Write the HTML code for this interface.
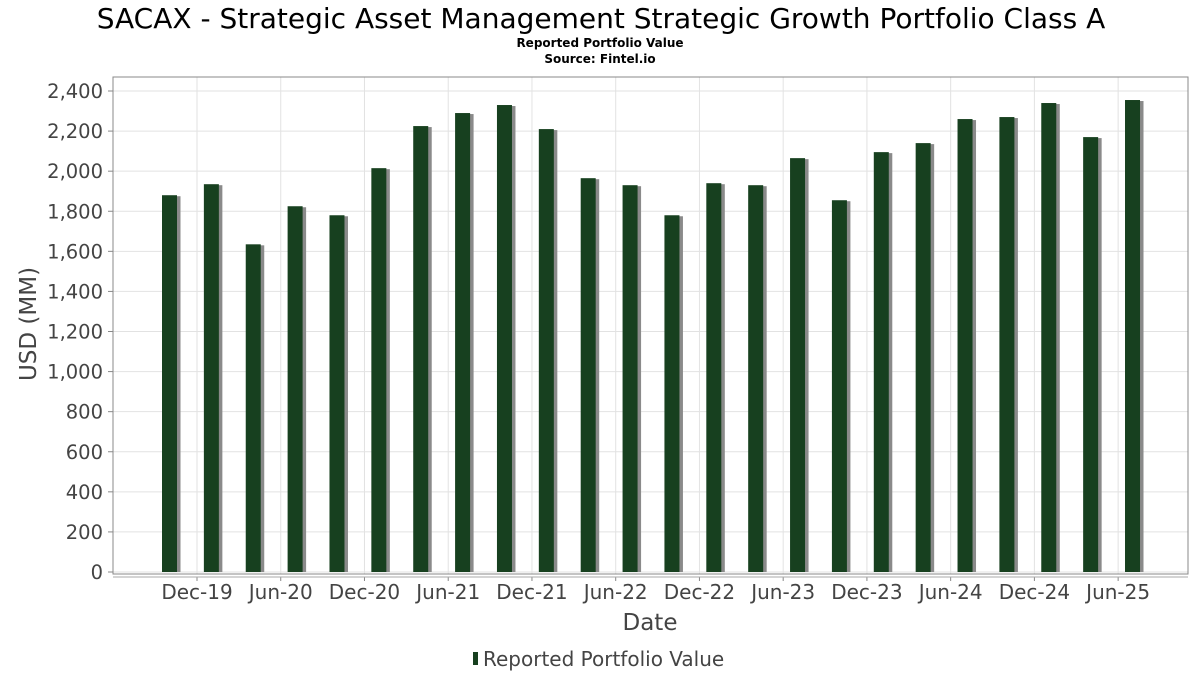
<!DOCTYPE html>
<html><head><meta charset="utf-8"><style>
body{margin:0;background:#fff;font-family:"DejaVu Sans","Liberation Sans",sans-serif}
</style></head><body>
<svg width="1200" height="675" xmlns="http://www.w3.org/2000/svg" font-family="DejaVu Sans, Liberation Sans, sans-serif">
<text x="601" y="28" text-anchor="middle" font-size="28" fill="#000">SACAX - Strategic Asset Management Strategic Growth Portfolio Class A</text>
<text x="600" y="47" text-anchor="middle" font-size="12" font-weight="bold">Reported Portfolio Value</text>
<text x="600" y="63" text-anchor="middle" font-size="12" font-weight="bold">Source: Fintel.io</text>
<g id="grid"></g><g id="bars"></g><g id="axes"></g>
<text transform="translate(36,324) rotate(-90)" text-anchor="middle" font-size="23" fill="#444">USD (MM)</text>
<text x="650" y="630" text-anchor="middle" font-size="23" fill="#444">Date</text>
<g><rect x="473" y="652" width="5" height="13" fill="#17401f"/><text x="483" y="666" font-size="20" fill="#444">Reported Portfolio Value</text></g>
</svg>
<script>
const values=[1880,1935,1635,1825,1780,2015,2225,2290,2330,2210,1965,1930,1780,1940,1930,2065,1855,2095,2140,2260,2270,2340,2170,2355];
const xLabels=["Dec-19","Jun-20","Dec-20","Jun-21","Dec-21","Jun-22","Dec-22","Jun-23","Dec-23","Jun-24","Dec-24","Jun-25"];
const yTicks=[0,200,400,600,800,1000,1200,1400,1600,1800,2000,2200,2400];
const NS="http://www.w3.org/2000/svg";
const L=113,R=1188,T=77,B=574;
const y=v=>572-v*(572-91)/2400;
const x=i=>169.5+i*41.87;
const lx=k=>197+k*83.74;
function mk(t,a,p){const e=document.createElementNS(NS,t);for(const k in a)e.setAttribute(k,a[k]);p.appendChild(e);return e;}
const g=document.getElementById('grid'),b=document.getElementById('bars'),ax=document.getElementById('axes');
yTicks.forEach(v=>{
 const l=mk('line',{x1:L,x2:R,y1:y(v),y2:y(v),stroke:'#e2e2e2'},g);
 
 
 const t=mk('text',{x:103,y:y(v)+7,'text-anchor':'end','font-size':19.5,fill:'#444'},ax);
 t.textContent=v.toLocaleString('en-US');
 
 
 mk('line',{x1:108,x2:113,y1:y(v),y2:y(v),stroke:'#888'},ax);
});
xLabels.forEach((s,k)=>{
 const l=mk('line',{x1:lx(k),x2:lx(k),y1:T,y2:B,stroke:'#e2e2e2'},g);
 
 
 mk('line',{x1:lx(k),x2:lx(k),y1:577,y2:581,stroke:'#888'},ax);
 const t=mk('text',{x:lx(k),y:599,'text-anchor':'middle','font-size':20,fill:'#444'},ax);
 t.textContent=s;
 
 
});
values.forEach((v,i)=>{
 const s=mk('rect',{x:x(i)-5,y:y(v)+1,width:16,height:572-y(v)-1,fill:'#8a8a8a'},b);
 
 
 const r=mk('rect',{x:x(i)-7.5,y:y(v),width:15,height:572-y(v),fill:'#17401f'},b);
 
 
});
mk('rect',{x:L,y:T,width:R-L,height:B-T,fill:'none',stroke:'#888'},ax);
mk('line',{x1:113,x2:1188,y1:577,y2:577,stroke:'#aaa'},ax);
</script>
</body></html>
